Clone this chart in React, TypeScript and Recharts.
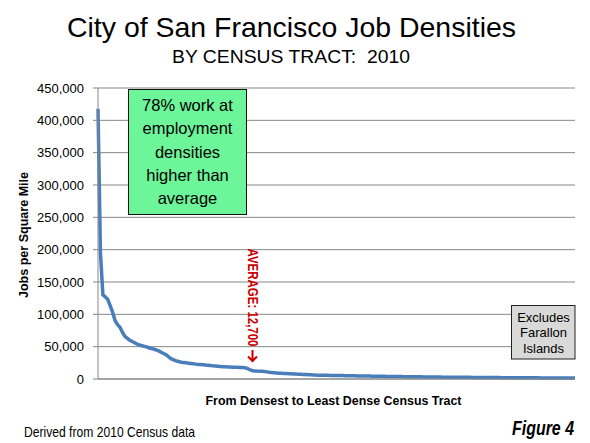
import React from "react";
import { CartesianGrid, Line, LineChart, XAxis, YAxis } from "recharts";

// jobs per square mile, census tracts ranked densest to least dense
const tractDensities = [
    418000, 195000, 130000, 127000, 123000, 113000, 103000, 90000, 84000, 80000, 72000, 66000, 63000, 60000,
    58000, 56000, 54000, 52500, 51500, 50500, 49500, 48000, 47000, 46000, 44500, 43000, 41000, 39000,
    37000, 34000, 31000, 29500, 28000, 27000, 26000, 25500, 25000, 24500, 24000, 23500, 23000, 22600,
    22300, 22000, 21500, 21100, 20700, 20300, 20000, 19700, 19400, 19000, 18800, 18600, 18500, 18300,
    18100, 18000, 17800, 17600, 17400, 16500, 14500, 13000, 12500, 12200, 12000, 11800, 11500, 11000,
    10500, 10200, 9800, 9400, 9000, 8800, 8600, 8400, 8200, 8000, 7800, 7600, 7400, 7200,
    7000, 6800, 6600, 6400, 6200, 6000, 5900, 5900, 5800, 5700, 5700, 5600, 5500, 5500,
    5400, 5300, 5300, 5200, 5100, 5000, 5000, 4900, 4800, 4800, 4700, 4600, 4600, 4500,
    4400, 4400, 4300, 4200, 4200, 4100, 4000, 3950, 3900, 3850, 3800, 3750, 3700, 3650,
    3600, 3550, 3500, 3450, 3400, 3350, 3300, 3250, 3200, 3150, 3100, 3050, 3000, 3000,
    2950, 2900, 2900, 2850, 2800, 2800, 2750, 2700, 2700, 2650, 2600, 2600, 2550, 2500,
    2500, 2450, 2400, 2400, 2350, 2300, 2300, 2250, 2200, 2200, 2150, 2100, 2100, 2050,
    2050, 2000, 2000, 1950, 1950, 1900, 1900, 1850, 1850, 1800, 1800, 1780, 1760, 1740,
    1720, 1700, 1680, 1660, 1640, 1620, 1600, 1590, 1580, 1560, 1550, 1530, 1520, 1500,
];

const yTicks = [0, 50000, 100000, 150000, 200000, 250000, 300000, 350000, 400000, 450000];

const calloutLines = ["78% work at", "employment", "densities", "higher than", "average"];
const excludesLines = ["Excludes", "Farallon", "Islands"];

const chartData = tractDensities.map((density, i) => ({ rank: i + 1, density }));

const SANS = "'Liberation Sans', Arial, sans-serif";
const NARROW = "'Liberation Sans Narrow', 'Liberation Sans', Arial, sans-serif";
const GRID = "#878787";

function Overlay() {
    return (
        <svg
            width={590}
            height={443}
            style={{ position: "absolute", left: 0, top: 0, pointerEvents: "none" }}
        >
            <text x={291.5} y={37.3} textAnchor="middle" fontFamily={SANS} fontSize={28} textLength={449} lengthAdjust="spacingAndGlyphs">
                City of San Francisco Job Densities
            </text>
            <text x={291} y={62.7} textAnchor="middle" fontFamily={SANS} fontSize={19} textLength={238} lengthAdjust="spacingAndGlyphs">
                {"BY CENSUS TRACT:\u00a0 2010"}
            </text>

            <text
                x={24}
                y={235}
                transform="rotate(-90, 24, 235)"
                dy="0.35em"
                textAnchor="middle"
                fontFamily={SANS}
                fontWeight="bold"
                fontSize={12}
                textLength={126}
                lengthAdjust="spacingAndGlyphs"
            >
                Jobs per Square Mile
            </text>
            <text x={333.5} y={405} textAnchor="middle" fontFamily={SANS} fontWeight="bold" fontSize={13} textLength={256} lengthAdjust="spacingAndGlyphs">
                From Densest to Least Dense Census Tract
            </text>

            {/* green callout */}
            <rect x={128.5} y={89.5} width={118} height={125} fill="#6df59a" stroke="#111" strokeWidth={1} />
            {calloutLines.map((line, i) => (
                <text key={line} x={187.5} y={110.7 + i * 23.4} textAnchor="middle" fontFamily={SANS} fontSize={16.5}>
                    {line}
                </text>
            ))}

            {/* average marker */}
            <text
                x={247.5}
                y={248.5}
                transform="rotate(90, 247.5, 248.5)"
                fontFamily={NARROW}
                fontWeight="bold"
                fontSize={15}
                fill="#cc0000"
                textLength={98}
                lengthAdjust="spacingAndGlyphs"
            >
                AVERAGE: 12,700
            </text>
            <path d="M252.5 350 L252.5 361 M248 356.5 L252.5 361 L257 356.5" stroke="#cc0000" strokeWidth={2} fill="none" />

            {/* excludes box */}
            <rect x={511.5} y={305.5} width={63.5} height={53.5} fill="#d9d9d9" stroke="#222" strokeWidth={1} />
            {excludesLines.map((line, i) => (
                <text key={line} x={543.5} y={321.7 + i * 15.5} textAnchor="middle" fontFamily={NARROW} fontSize={13}>
                    {line}
                </text>
            ))}

            <text x={24} y={436.7} fontFamily={NARROW} fontSize={15} textLength={171} lengthAdjust="spacingAndGlyphs">
                Derived from 2010 Census data
            </text>
            <text x={512} y={435} fontFamily={NARROW} fontWeight="bold" fontStyle="italic" fontSize={20} textLength={62} lengthAdjust="spacingAndGlyphs">
                Figure 4
            </text>
        </svg>
    );
}

export default function App() {
    return (
        <div style={{ position: "absolute", left: 0, top: 0, width: 590, height: 443, background: "#fff" }}>
            <LineChart width={590} height={443} data={chartData} margin={{ top: 88, right: 15, bottom: 34, left: 0 }}>
                <CartesianGrid vertical={false} stroke={GRID} />
                <XAxis dataKey="rank" tick={false} tickLine={false} axisLine={{ stroke: GRID }} height={30} />
                <YAxis
                    domain={[0, 450000]}
                    ticks={yTicks}
                    interval={0}
                    width={98}
                    tickFormatter={(v) => v.toLocaleString("en-US")}
                    tick={{ fontSize: 13, fill: "#000", fontFamily: SANS }}
                    axisLine={{ stroke: GRID }}
                    tickLine={{ stroke: GRID }}
                    tickSize={5}
                    tickMargin={9}
                />
                <Line
                    type="linear"
                    dataKey="density"
                    stroke="#4a7ebb"
                    strokeWidth={3.5}
                    dot={false}
                    isAnimationActive={false}
                />
            </LineChart>
            <Overlay />
        </div>
    );
}
